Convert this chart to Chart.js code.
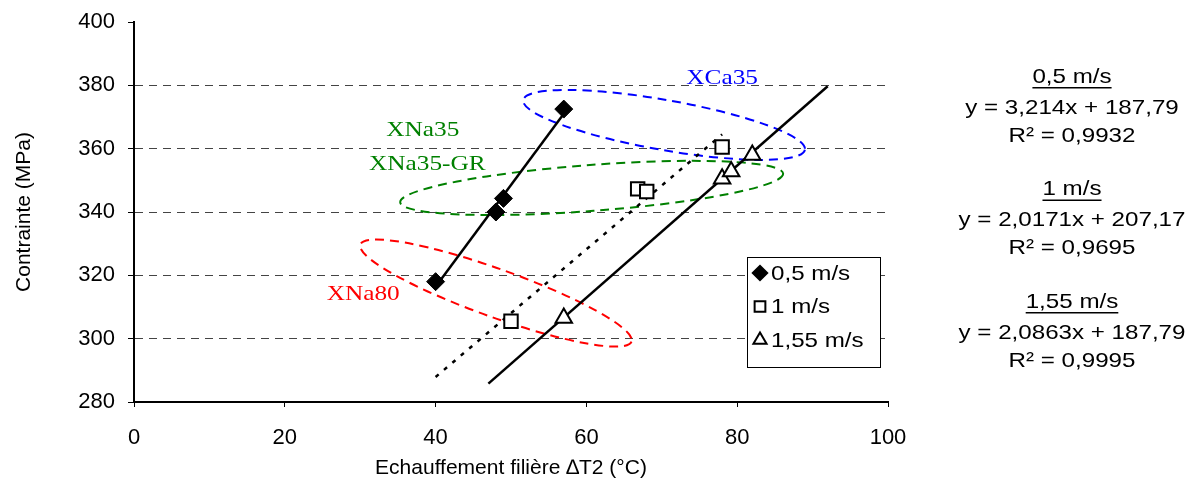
<!DOCTYPE html>
<html>
<head>
<meta charset="utf-8">
<script src="https://cdn.jsdelivr.net/npm/chart.js@4/dist/chart.umd.min.js"></script>
<style>
  html, body { margin: 0; padding: 0; background: #fff; }
  #wrap { width: 1192px; height: 485px; }
</style>
</head>
<body>
<div id="wrap"><canvas id="chart" width="1192" height="485"></canvas></div>
<script>
// series
const seriesNames = ['0,5 m/s', '1 m/s', '1,55 m/s'];
const x05 = [40, 48, 49, 57];
const y05 = [318, 340, 344.3, 372.5];
const x1 = [50, 66.8, 68, 78];
const y1 = [305.5, 347.3, 346.5, 360.5];
const x155 = [57, 78, 79.2, 82];
const y155 = [306.5, 350.5, 352.8, 358];

// trendline end points
const trendX05 = [40, 57];
const trendY05 = [316.4, 371.0];
const trendX1 = [40, 78];
const trendY1 = [287.9, 364.5];
const trendX155 = [47, 92];
const trendY155 = [285.8, 379.7];

// equations shown on the right
const equations = ['y = 3,214x + 187,79', 'y = 2,0171x + 207,17', 'y = 2,0863x + 187,79'];
const r2Values = ['R² = 0,9932', 'R² = 0,9695', 'R² = 0,9995'];

// group labels around the points
const groupNames = ['XCa35', 'XNa35', 'XNa35-GR', 'XNa80'];

const pts = (xs, ys) => xs.map((x, i) => ({ x: x, y: ys[i] }));

// dashed ellipses (centre in data units, radii in px)
const ellipses = [
  { cx: 70.3, cy: 367.5, rx: 143, ry: 25, rot: 10, color: '#0000ff' },
  { cx: 60.7, cy: 347.6, rx: 192, ry: 23, rot: -4.3, color: '#008000' },
  { cx: 48.0, cy: 314.4, rx: 144, ry: 24, rot: 19.7, color: '#ff0000' },
];
const groupLabels = [
  { text: groupNames[0], x: 78.0, y: 382.3, color: '#0000ff' },
  { text: groupNames[1], x: 38.3, y: 365.9, color: '#008000' },
  { text: groupNames[2], x: 38.9, y: 355.2, color: '#008000' },
  { text: groupNames[3], x: 30.4, y: 314.1, color: '#ff0000' },
];

const sansFont = 'Liberation Sans, Arial, sans-serif';
const serifFont = 'Liberation Serif, Times New Roman, serif';
const stretch = 1.15; // the reference text is a bit wide

function wideText(ctx, t, x, y, align) {
  ctx.save();
  ctx.translate(x, y);
  ctx.scale(stretch, 1);
  ctx.textAlign = align;
  ctx.fillText(t, 0, 0);
  const w = ctx.measureText(t).width;
  ctx.restore();
  return w * stretch;
}

const annotations = {
  id: 'annotations',
  beforeDatasetsDraw(chart) {
    const ctx = chart.ctx;
    const xs = chart.scales.x, ys = chart.scales.y;
    ctx.save();
    ctx.lineWidth = 2;
    ctx.setLineDash([9, 6]);
    ellipses.forEach(e => {
      ctx.strokeStyle = e.color;
      ctx.beginPath();
      ctx.ellipse(xs.getPixelForValue(e.cx), ys.getPixelForValue(e.cy), e.rx, e.ry, e.rot * Math.PI / 180, 0, Math.PI * 2);
      ctx.stroke();
    });
    ctx.setLineDash([]);
    ctx.font = '22px ' + serifFont;
    ctx.textBaseline = 'middle';
    groupLabels.forEach(l => {
      ctx.fillStyle = l.color;
      wideText(ctx, l.text, xs.getPixelForValue(l.x), ys.getPixelForValue(l.y), 'center');
    });
    ctx.restore();
  },
  afterDraw(chart) {
    const ctx = chart.ctx;
    const area = chart.chartArea;
    ctx.save();
    // legend box inside plot
    const bx = area.right - 141, by = area.top + 235, bw = 133, bh = 110;
    ctx.fillStyle = '#fff';
    ctx.fillRect(bx, by, bw, bh);
    ctx.strokeStyle = '#000';
    ctx.lineWidth = 1;
    ctx.strokeRect(bx + 0.5, by + 0.5, bw, bh);
    ctx.font = '21px ' + sansFont;
    ctx.textBaseline = 'middle';
    chart.data.datasets.slice(0, 3).forEach((ds, i) => {
      const cy = by + 16 + i * 33.5;
      ctx.strokeStyle = '#000';
      ctx.fillStyle = ds.pointBackgroundColor;
      ctx.lineWidth = 2;
      Chart.helpers.drawPoint(ctx, { pointStyle: ds.pointStyle, radius: ds.pointRadius * 0.8, rotation: 0, borderWidth: 2 }, bx + 13, cy);
      ctx.fillStyle = '#000';
      wideText(ctx, seriesNames[i], bx + 24, cy + 1, 'left');
    });
    // equations block on the right
    const cx = 1072;
    seriesNames.forEach((name, i) => {
      const y0 = 77 + i * 112.5;
      const lines = [name, equations[i], r2Values[i]];
      lines.forEach((t, j) => {
        const y = y0 + (j === 0 ? 0 : j === 1 ? 31 : 59);
        ctx.fillStyle = '#000';
        const w = wideText(ctx, t, cx, y, 'center');
        if (j === 0) ctx.fillRect(cx - w / 2, y + 10, w, 1.5);
      });
    });
    ctx.restore();
  }
};

const ctx = document.getElementById('chart').getContext('2d');
new Chart(ctx, {
  type: 'scatter',
  data: {
    datasets: [
      {
        label: seriesNames[0],
        data: pts(x05, y05),
        pointStyle: 'rectRot',
        pointRadius: 9,
        pointBackgroundColor: '#000',
        pointBorderColor: '#000',
        pointBorderWidth: 1,
        showLine: false,
        order: 1,
      },
      {
        label: seriesNames[1],
        data: pts(x1, y1),
        pointStyle: 'rect',
        pointRadius: 9.5,
        pointBackgroundColor: '#fff',
        pointBorderColor: '#000',
        pointBorderWidth: 2,
        showLine: false,
        order: 1,
      },
      {
        label: seriesNames[2],
        data: pts(x155, y155),
        pointStyle: 'triangle',
        pointRadius: 9.5,
        pointBackgroundColor: '#fff',
        pointBorderColor: '#000',
        pointBorderWidth: 2,
        showLine: false,
        order: 1,
      },
      {
        label: 'trend 0,5',
        data: pts(trendX05, trendY05),
        showLine: true,
        borderColor: '#000',
        borderWidth: 2.5,
        pointRadius: 0,
        order: 2,
      },
      {
        label: 'trend 1',
        data: pts(trendX1, trendY1),
        showLine: true,
        borderColor: '#000',
        borderWidth: 2.5,
        borderDash: [4, 7],
        pointRadius: 0,
        order: 2,
      },
      {
        label: 'trend 1,55',
        data: pts(trendX155, trendY155),
        showLine: true,
        borderColor: '#000',
        borderWidth: 2.5,
        pointRadius: 0,
        order: 2,
      },
    ],
  },
  options: {
    responsive: false,
    animation: false,
    layout: { padding: { left: 0, right: 304, top: 22, bottom: 0 } },
    plugins: {
      legend: { display: false },
      tooltip: { enabled: false },
    },
    scales: {
      x: {
        type: 'linear',
        min: 0,
        max: 100,
        ticks: { stepSize: 20, color: '#000', font: { family: sansFont, size: 22 }, padding: 18, maxRotation: 0 },
        grid: { drawOnChartArea: false, tickLength: 5, tickColor: '#000', color: '#000' },
        border: { color: '#000', width: 2 },
        title: { display: true, text: 'Echauffement filière ∆T2 (°C)', color: '#000', font: { family: sansFont, size: 21 }, padding: { top: 4 } },
        afterFit: s => { s.height = 83; s.paddingLeft = 0; s.paddingRight = 0; },
      },
      y: {
        min: 280,
        max: 400,
        ticks: { stepSize: 20, color: '#000', font: { family: sansFont, size: 22 }, padding: 13 },
        grid: {
          color: c => (c.tick && (c.tick.value === 400 || c.tick.value === 280)) ? 'rgba(0,0,0,0)' : '#444',
          lineWidth: 1,
          tickLength: 6,
          tickColor: '#000',
          tickBorderDash: [],
        },
        border: { color: '#000', width: 2, dash: [8, 6] },
        title: { display: true, text: 'Contrainte (MPa)', color: '#000', font: { family: sansFont, size: 21 }, padding: { top: 12, bottom: 4 } },
        afterFit: s => { s.width = 134; s.paddingTop = 0; s.paddingBottom = 0; },
      },
    },
  },
  plugins: [annotations],
});
</script>
</body>
</html>
